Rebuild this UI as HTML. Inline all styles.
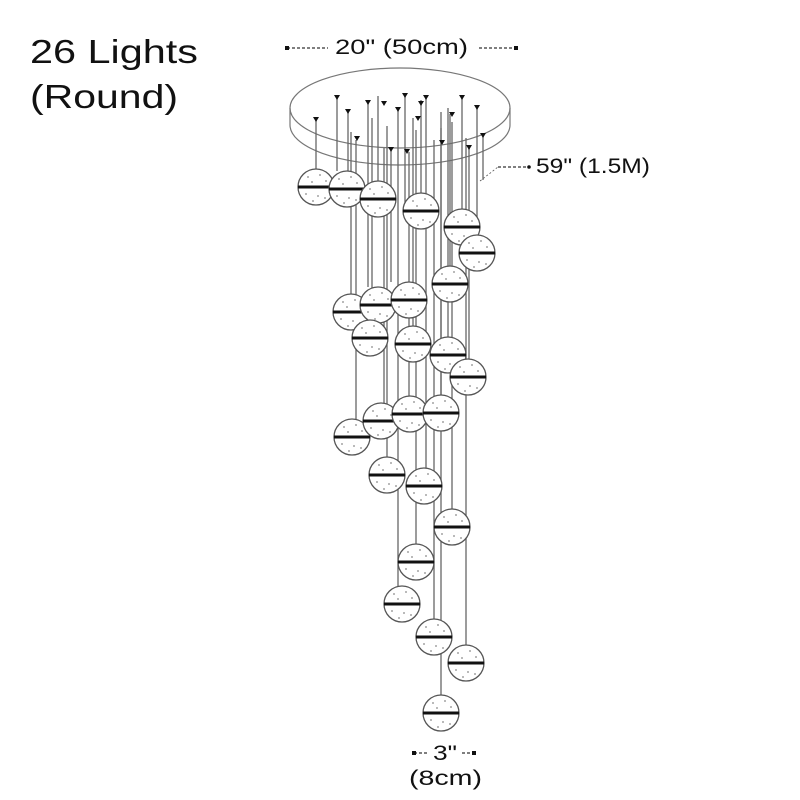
<!DOCTYPE html>
<html><head><meta charset="utf-8"><style>
html,body{margin:0;padding:0;background:#fff;}
svg{display:block;}
text{font-family:"Liberation Sans",sans-serif;fill:#111;}
</style></head><body>
<svg width="800" height="800" viewBox="0 0 800 800" xmlns="http://www.w3.org/2000/svg">
<text x="30" y="63" font-size="33" textLength="168" lengthAdjust="spacingAndGlyphs">26 Lights</text>
<text x="30" y="108" font-size="33" textLength="148" lengthAdjust="spacingAndGlyphs">(Round)</text>
<text x="335" y="54" font-size="21" textLength="133" lengthAdjust="spacingAndGlyphs">20" (50cm)</text>
<line x1="287" y1="48" x2="328" y2="48" stroke="#333" stroke-width="1.3" stroke-dasharray="3,2"/>
<rect x="285" y="46" width="4" height="4" fill="#111"/>
<line x1="479" y1="48" x2="516" y2="48" stroke="#333" stroke-width="1.3" stroke-dasharray="3,2"/>
<rect x="514" y="46" width="4" height="4" fill="#111"/>
<text x="536" y="173" font-size="21" textLength="114" lengthAdjust="spacingAndGlyphs">59" (1.5M)</text>
<line x1="498" y1="167" x2="528" y2="167" stroke="#333" stroke-width="1.2" stroke-dasharray="3,2"/>
<line x1="480" y1="181" x2="498" y2="167" stroke="#555" stroke-width="0.8" stroke-dasharray="2,2"/>
<circle cx="529" cy="167" r="1.8" fill="#111"/>
<text x="433" y="760" font-size="21" textLength="24" lengthAdjust="spacingAndGlyphs">3"</text>
<line x1="414" y1="753" x2="428" y2="753" stroke="#333" stroke-width="1.3" stroke-dasharray="3,2"/>
<rect x="412" y="751" width="4" height="4" fill="#111"/>
<line x1="462" y1="753" x2="474" y2="753" stroke="#333" stroke-width="1.3" stroke-dasharray="3,2"/>
<rect x="472" y="751" width="4" height="4" fill="#111"/>
<text x="409" y="785" font-size="21" textLength="73" lengthAdjust="spacingAndGlyphs">(8cm)</text>

<g fill="none" stroke="#777" stroke-width="1.2">
<path d="M290,108 A110,40 0 0 1 510,108 L510,125 A110,40 0 0 1 290,125 Z" fill="#fff"/>
<path d="M290,108 A110,40 0 0 0 510,108"/>
</g>

<g stroke="#666" stroke-width="1.3" fill="#fff">
<line x1="316" y1="118" x2="316" y2="169"/>
<line x1="337" y1="96" x2="337" y2="171"/>
<line x1="351" y1="132" x2="351" y2="294"/>
<line x1="348" y1="110" x2="348" y2="171"/>
<line x1="356" y1="140" x2="356" y2="419"/>
<line x1="368" y1="100" x2="368" y2="287"/>
<line x1="372" y1="118" x2="372" y2="320"/>
<line x1="378" y1="96" x2="378" y2="181"/>
<line x1="384" y1="148" x2="384" y2="403"/>
<line x1="387" y1="126" x2="387" y2="457"/>
<line x1="391" y1="150" x2="391" y2="282"/>
<line x1="398" y1="108" x2="398" y2="586"/>
<line x1="405" y1="94" x2="405" y2="203"/>
<line x1="409" y1="152" x2="409" y2="396"/>
<line x1="413" y1="118" x2="413" y2="326"/>
<line x1="416" y1="130" x2="416" y2="544"/>
<line x1="421" y1="100" x2="421" y2="193"/>
<line x1="426" y1="96" x2="426" y2="468"/>
<line x1="434" y1="140" x2="434" y2="619"/>
<line x1="441" y1="128" x2="441" y2="695"/>
<line x1="441" y1="112" x2="441" y2="395"/>
<line x1="448" y1="108" x2="448" y2="337"/>
<line x1="450" y1="114" x2="450" y2="266"/>
<line x1="452" y1="122" x2="452" y2="509"/>
<line x1="462" y1="96" x2="462" y2="209"/>
<line x1="466" y1="138" x2="466" y2="645"/>
<line x1="469" y1="146" x2="469" y2="359"/>
<line x1="477" y1="106" x2="477" y2="235"/>
<line x1="483" y1="134" x2="483" y2="180"/>
</g>
<g fill="#111">
<path d="M334,95 h6 l-3,5z M345,109 h6 l-3,5z M354,136 h6 l-3,5z M365,100 h6 l-3,5z M381,101 h6 l-3,5z M388,147 h6 l-3,5z M395,107 h6 l-3,5z M402,93 h6 l-3,5z M404,149 h6 l-3,5z M415,116 h6 l-3,5z M423,95 h6 l-3,5z M439,140 h6 l-3,5z M449,112 h6 l-3,5z M459,95 h6 l-3,5z M466,145 h6 l-3,5z M474,105 h6 l-3,5z M480,133 h6 l-3,5z M313,117 h6 l-3,5z M418,101 h6 l-3,5z"/>
</g>

<defs>
<g id="b">
<circle r="18" fill="#fff" stroke="#555" stroke-width="1.3"/>
<line x1="-18" y1="0" x2="18" y2="0" stroke="#111" stroke-width="3"/>
<g fill="#888"><circle cx="-8" cy="-10" r="0.9"/><circle cx="4" cy="-12" r="0.9"/><circle cx="10" cy="-6" r="0.9"/><circle cx="-4" cy="-5" r="0.9"/><circle cx="-10" cy="7" r="0.9"/><circle cx="2" cy="9" r="0.9"/><circle cx="9" cy="11" r="0.9"/><circle cx="-3" cy="14" r="0.9"/></g>
</g>
</defs>
<use href="#b" x="316" y="187"/>
<use href="#b" x="347" y="189"/>
<use href="#b" x="378" y="199"/>
<use href="#b" x="421" y="211"/>
<use href="#b" x="462" y="227"/>
<use href="#b" x="477" y="253"/>
<use href="#b" x="450" y="284"/>
<use href="#b" x="351" y="312"/>
<use href="#b" x="378" y="305"/>
<use href="#b" x="409" y="300"/>
<use href="#b" x="370" y="338"/>
<use href="#b" x="413" y="344"/>
<use href="#b" x="448" y="355"/>
<use href="#b" x="468" y="377"/>
<use href="#b" x="352" y="437"/>
<use href="#b" x="381" y="421"/>
<use href="#b" x="410" y="414"/>
<use href="#b" x="441" y="413"/>
<use href="#b" x="387" y="475"/>
<use href="#b" x="424" y="486"/>
<use href="#b" x="452" y="527"/>
<use href="#b" x="416" y="562"/>
<use href="#b" x="402" y="604"/>
<use href="#b" x="434" y="637"/>
<use href="#b" x="466" y="663"/>
<use href="#b" x="441" y="713"/>
</svg>
</body></html>
